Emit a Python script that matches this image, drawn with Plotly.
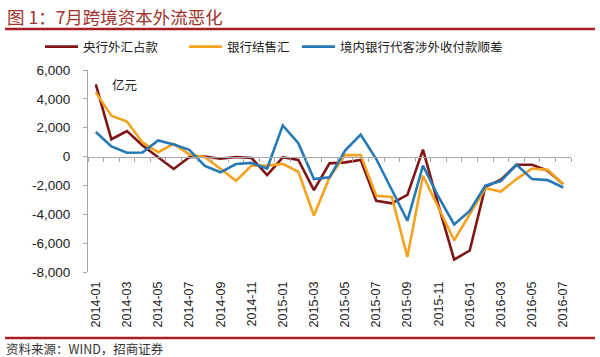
import plotly.graph_objects as go

months = [f"{y}-{m:02d}" for y in (2014, 2015, 2016) for m in range(1, 13)][:31]

pboc_fx = [5000, 1200, 1770, 770, -50, -860, -50, 0, -150, -30, -100, -1280, -50, -230,
           -2330, -470, -400, -230, -3070, -3240, -2650, 480, -3400, -7140, -6510, -2100,
           -1600, -570, -570, -980, -1910]
bank_fx = [4450, 2830, 2430, 980, 300, 880, 150, -50, -840, -1670, -630, -630, -510, -1050,
           -4080, -1450, 100, 100, -2720, -2800, -6950, -1330, -3550, -5810, -4000, -2200,
           -2420, -1560, -830, -920, -1900]
client_fx = [1700, 700, 260, 280, 1120, 840, 470, -650, -1090, -520, -440, -830, 2160, 930,
             -1560, -1440, 420, 1530, -170, -2260, -4450, -630, -2800, -4700, -3770, -2020,
             -1700, -560, -1560, -1630, -2140]

series_names = ["央行外汇占款", "银行结售汇", "境内银行代客涉外收付款顺差"]
colors = ["#7F1517", "#F4A21F", "#2479B6"]
y_ticks = [6000, 4000, 2000, 0, -2000, -4000, -6000, -8000]
y_text = ["6,000", "4,000", "2,000", "0", "-2,000", "-4,000", "-6,000", "-8,000"]

W, H = 600, 357
L, R, T, B = 88, 29, 70, 85
pw, ph = W - L - R, H - T - B

def px_x(x):
    return (x - L) / pw

def px_y(y):
    return (H - B - y) / ph

FONT = "Liberation Sans, Arial, Noto Sans CJK SC"
CJK = "Noto Sans CJK SC, Liberation Sans"

fig = go.Figure()
legend_x = [40, 184, 297]
for i, (name, vals) in enumerate(zip(series_names, [pboc_fx, bank_fx, client_fx])):
    fig.add_trace(go.Scatter(
        x=months, y=vals, mode="lines", name=name,
        line=dict(color=colors[i], width=2.6),
        legend="legend" if i == 0 else f"legend{i+1}",
    ))

# helper axis carrying the tick marks on the zero line
fig.add_trace(go.Scatter(x=[], y=[], xaxis="x2", yaxis="y", showlegend=False, hoverinfo="skip"))

zero_pos = (0 - (-8000)) / 14000

legend_common = dict(orientation="h", yanchor="middle", xanchor="left",
                     font=dict(family=CJK, size=12.5, color="#222"),
                     bgcolor="rgba(0,0,0,0)", borderwidth=0, itemwidth=33,
                     tracegroupgap=0)
layout_legends = {}
for i, lx in enumerate(legend_x):
    key = "legend" if i == 0 else f"legend{i+1}"
    layout_legends[key] = dict(legend_common, x=px_x(lx), y=px_y(47))

fig.update_layout(
    width=W, height=H,
    margin=dict(l=L, r=R, t=T, b=B, autoexpand=False),
    paper_bgcolor="white", plot_bgcolor="white",
    font=dict(family=FONT, size=13, color="#222"),
    showlegend=True,
    xaxis=dict(type="category", range=[-0.5, 30.5], tickmode="array",
               tickvals=months[::2], ticktext=months[::2], tickangle=-90,
               showline=False, showgrid=False, zeroline=False, ticks="",
               automargin=False,
               ticklabelstandoff=6, tickfont=dict(size=12.5, color="#222")),
    xaxis2=dict(overlaying="x", anchor="free", position=zero_pos, type="linear",
                range=[-0.5, 30.5], tickmode="array",
                tickvals=[k - 0.5 for k in range(32)], showticklabels=False,
                ticks="outside", ticklen=4, tickcolor="#A6A6A6", tickwidth=1,
                showline=True, linecolor="#A6A6A6", linewidth=1,
                showgrid=False, zeroline=False),
    yaxis=dict(range=[-8000, 6000], tickmode="array", tickvals=y_ticks, ticktext=y_text,
               showline=True, linecolor="#A6A6A6", linewidth=1, ticks="outside",
               ticklen=4, tickcolor="#A6A6A6", showgrid=False, zeroline=False,
               automargin=False,
               ticklabelstandoff=10, tickfont=dict(size=13.5, color="#222")),
    **layout_legends,
)

fig.add_annotation(text="图 1：7月跨境资本外流恶化", xref="paper", yref="paper",
                   x=px_x(5), y=px_y(16), xanchor="left", yanchor="middle",
                   showarrow=False, font=dict(family=CJK, size=17.5, color="#A0322B"))
fig.add_annotation(text="亿元", xref="paper", yref="paper",
                   x=px_x(110), y=px_y(85), xanchor="left", yanchor="middle",
                   showarrow=False, font=dict(family=CJK, size=12.5, color="#222"))
fig.add_annotation(text="资料来源：WIND，招商证券", xref="paper", yref="paper",
                   x=px_x(4), y=px_y(348), xanchor="left", yanchor="middle",
                   showarrow=False, font=dict(family=CJK, size=12.5, color="#333"))

fig.add_shape(type="line", xref="paper", yref="paper", x0=px_x(5), x1=px_x(595),
              y0=px_y(29), y1=px_y(29), line=dict(color="#A51F24", width=2.5))
fig.add_shape(type="line", xref="paper", yref="paper", x0=px_x(5), x1=px_x(595),
              y0=px_y(338), y1=px_y(338), line=dict(color="#A51F24", width=2.5))

fig.write_html("out.html", config={"displayModeBar": False},
               post_script="document.body.style.margin='0';document.body.style.overflow='hidden';")
